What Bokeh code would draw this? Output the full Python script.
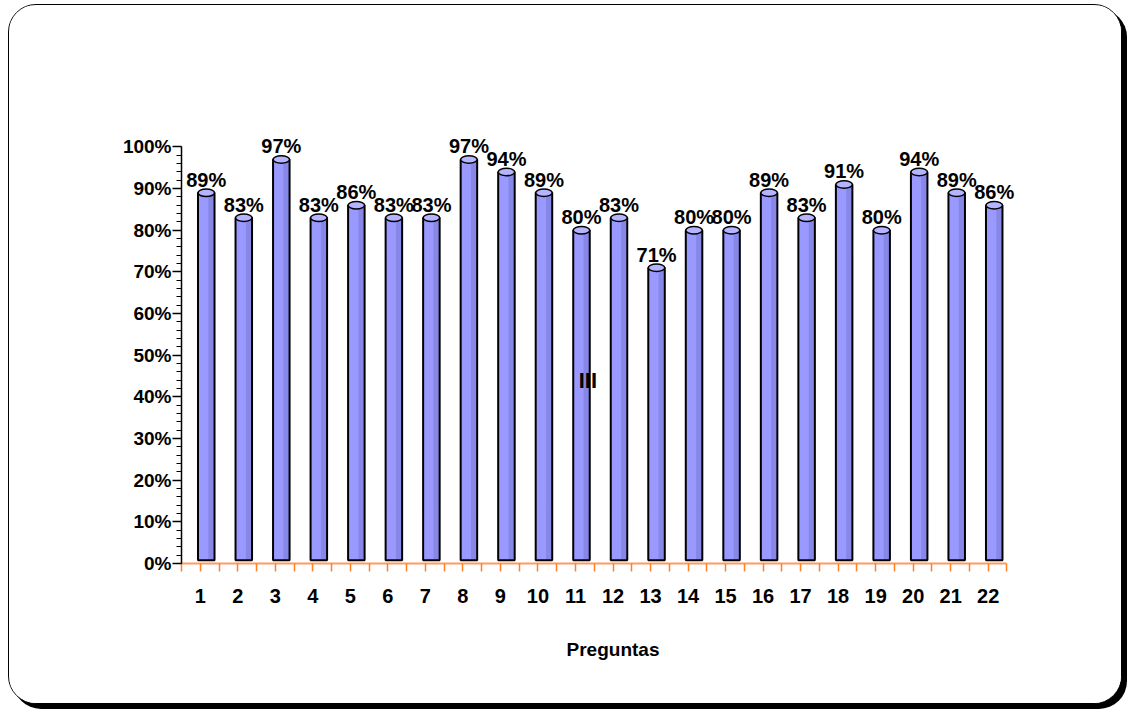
from bokeh.plotting import figure
from bokeh.models import FixedTicker, Range1d
from bokeh.core.properties import value
from bokeh.embed import file_html
from bokeh.resources import INLINE

# Survey results: share of positive answers per question (percent)
preguntas = list(range(1, 23))
porcentajes = [89, 83, 97, 83, 86, 83, 83, 97, 94, 89, 80,
               83, 71, 80, 80, 89, 83, 91, 80, 94, 89, 86]
etiquetas = [f"{v}%" for v in porcentajes]
y_ticks = [0, 10, 20, 30, 40, 50, 60, 70, 80, 90, 100]
y_tick_labels = ["0%", "10%", "20%", "30%", "40%", "50%",
                 "60%", "70%", "80%", "90%", "100%"]

W, H = 1114, 700
FONT = "Liberation Sans"
BAR_FILL = "#9999FF"
BAR_SHADE = "#8787E8"
BAR_TOP = "#B4B4FF"
AXIS_ORANGE = "#FF9966"

p = figure(width=W, height=H, output_backend="svg", toolbar_location=None,
           x_range=Range1d(0.5, 23.5), y_range=Range1d(0, 115),
           min_border_left=172, min_border_right=79,
           min_border_top=79, min_border_bottom=142)
p.outline_line_color = None
p.grid.visible = False
p.background_fill_color = "white"
p.border_fill_color = "white"

# rounded card with a drop shadow around the chart
p.styles = {
    "margin-left": "8px",
    "margin-top": "4px",
    "border": "1.5px solid black",
    "border-radius": "28px",
    "box-shadow": "5px 5px 0 0 black",
    "overflow": "hidden",
    "background-color": "white",
}

# columns, slightly shifted right for the pseudo-3D look
bar_x = [x + 0.16 for x in preguntas]
shade_x = [x + 0.29 for x in preguntas]
p.vbar(x=bar_x, top=porcentajes, bottom=0.8, width=0.44,
       fill_color=BAR_FILL, line_color=None)
p.vbar(x=shade_x, top=porcentajes, bottom=0.8, width=0.15,
       fill_color=BAR_SHADE, line_color=None)
p.vbar(x=bar_x, top=porcentajes, bottom=0.8, width=0.44,
       fill_color=None, line_color="black", line_width=2)
p.ellipse(x=bar_x, y=porcentajes, width=0.44, height=1.8,
          fill_color=BAR_TOP, line_color="black", line_width=1.5)

# value labels over each column
p.text(x=bar_x, y=porcentajes, text=etiquetas, text_align="center",
       text_baseline="middle", y_offset=-13,
       text_font=value(FONT), text_font_style="bold",
       text_font_size="20px", text_color="black")

# stray mark inside the plot area
p.text(x=[11.33], y=[44], text=["III"], text_align="center",
       text_baseline="middle", text_font=value(FONT),
       text_font_style="bold", text_font_size="22px", text_color="black")

# x axis: orange line with ticks at categories and between them
xa = p.xaxis[0]
xa.bounds = (0.5, 22.5)
xa.ticker = FixedTicker(ticks=preguntas,
                        minor_ticks=[x - 0.5 for x in preguntas] + [22.5])
xa.major_label_overrides = {x: str(x) for x in preguntas}
xa.axis_line_color = AXIS_ORANGE
xa.axis_line_width = 2
xa.major_tick_line_color = "#FF7F27"
xa.minor_tick_line_color = "#FF7F27"
xa.major_tick_line_width = 1.5
xa.minor_tick_line_width = 1.5
xa.major_tick_in = 0
xa.minor_tick_in = 0
xa.major_tick_out = 8
xa.minor_tick_out = 8
xa.major_label_standoff = 17
xa.major_label_text_font = FONT
xa.major_label_text_font_style = "bold"
xa.major_label_text_font_size = "20px"
xa.major_label_text_color = "black"
xa.axis_label = "Preguntas"
xa.axis_label_standoff = 33
xa.axis_label_text_font = FONT
xa.axis_label_text_font_style = "bold"
xa.axis_label_text_font_size = "19px"
xa.axis_label_text_color = "black"

# y axis: percentages with fine minor ticks
ya = p.yaxis[0]
ya.bounds = (0, 100)
ya.ticker = FixedTicker(ticks=y_ticks, minor_ticks=list(range(0, 101, 2)))
ya.major_label_overrides = dict(zip(y_ticks, y_tick_labels))
ya.axis_line_color = "black"
ya.axis_line_width = 1.5
ya.major_tick_line_color = "black"
ya.minor_tick_line_color = "black"
ya.major_tick_line_width = 1.5
ya.minor_tick_line_width = 1
ya.major_tick_in = 0
ya.minor_tick_in = 0
ya.major_tick_out = 9
ya.minor_tick_out = 5
ya.major_label_standoff = 1
ya.major_label_text_font = FONT
ya.major_label_text_font_style = "bold"
ya.major_label_text_font_size = "19px"
ya.major_label_text_color = "black"

open("out.html", "w").write(file_html(p, INLINE))
